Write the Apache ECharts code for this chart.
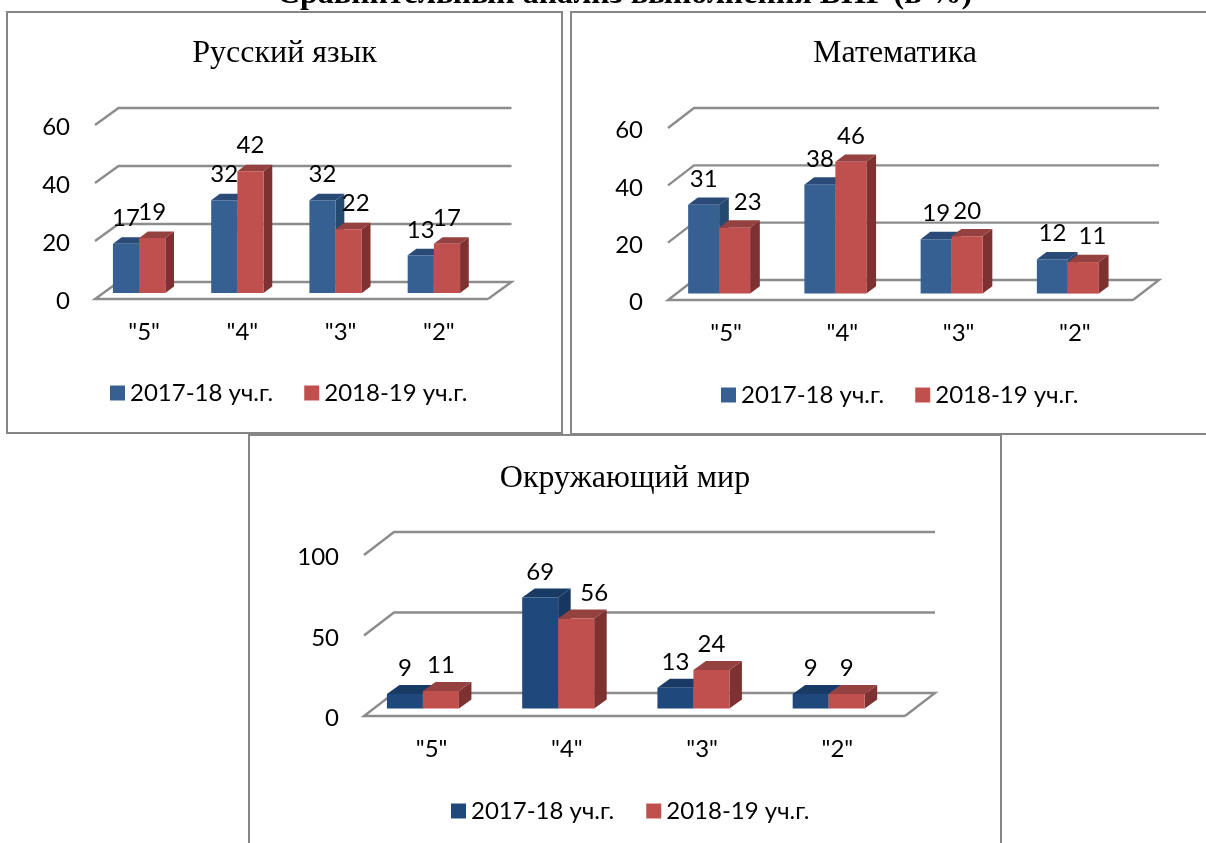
<!DOCTYPE html>
<html><head><meta charset="utf-8">
<style>html,body{margin:0;padding:0;background:#fff;overflow:hidden}#c{width:1206px;height:843px}</style>
<script src="https://cdn.jsdelivr.net/npm/echarts@6/dist/echarts.min.js"></script>
</head><body><div id="c"></div>
<script>
var categories = ['"5"', '"4"', '"3"', '"2"'];
var years = ['2017-18 уч.г.', '2018-19 уч.г.'];
var pageTitle = 'Сравнительный анализ выполнения ВПР (в %)';
var subjects = ['Русский язык', 'Математика', 'Окружающий мир'];
var russian2017 = [17, 32, 32, 13];
var russian2018 = [19, 42, 22, 17];
var math2017 = [31, 38, 19, 12];
var math2018 = [23, 46, 20, 11];
var world2017 = [9, 69, 13, 9];
var world2018 = [11, 56, 24, 9];
var ticks60 = [0, 20, 40, 60];
var ticks100 = [0, 50, 100];

var SANS = 'Lato, "Open Sans", sans-serif';
var SERIF = '"Liberation Serif", serif';
var RED = {front:'#c0504d', top:'#954140', side:'#7d3131'};
var BLUE = {front:'#376092', top:'#2a4a78', side:'#254a70'};
var NAVY = {front:'#1f497d', top:'#183a64', side:'#173660'};

var panels = [
 {title:subjects[0], a:russian2017, b:russian2018, ticks:ticks60, max:60, interval:20,
  frame:[7,12,555,421], grid:[95,125,393,174], wall:[23.5,17], bar:{w:26.2,shift:-5,lift:6,dx:8.7,dy:6.5},
  titleX:284.5, titleY:38, legend:[110,381,31], blue:BLUE, nudge:{2:7}},
 {title:subjects[1], a:math2017, b:math2018, ticks:ticks60, max:60, interval:20,
  frame:[571,12,660,422], grid:[668,128,465,172], wall:[26,20], bar:{w:31,shift:-7,lift:6.4,dx:9.7,dy:7.3},
  titleX:895, titleY:38, legend:[721,383,31], blue:BLUE, nudge:{0:13,3:9}},
 {title:subjects[2], a:world2017, b:world2018, ticks:ticks100, max:100, interval:50,
  frame:[249,435,752,430], grid:[364,555,541,161], wall:[30,23], bar:{w:36,shift:-8.7,lift:7.4,dx:12.5,dy:9},
  titleX:625, titleY:463, legend:[451,799,32], blue:NAVY, nudge:{1:18}}
];

function wallRenderer(p){
  return function(params, api){
    var cs = params.coordSys, v = api.value(1), y = api.coord([0, v])[1];
    var dx = p.wall[0], dy = p.wall[1], x0 = cs.x, x1 = cs.x + cs.width;
    var pts = [[x0, y], [x0 + dx, y - dy], [x1 + dx, y - dy]];
    if (v === 0) pts = [[x1, y], [x0, y], [x0 + dx, y - dy], [x1 + dx, y - dy], [x1, y]];
    return {type:'polyline', silent:true, shape:{points:pts},
      style:{stroke:'#8c8c8c', lineWidth:2.4, fill:null}};
  };
}
function barRenderer(p, colors, isSecond){
  return function(params, api){
    var i = api.value(0), v = api.value(1), b = p.bar;
    var c = api.coord([i, v]), base = api.coord([i, 0]);
    var l = c[0] + b.shift + (isSecond ? 0 : -b.w), r = l + b.w;
    var t = c[1] - b.lift, g = base[1] - b.lift;
    var nudge = isSecond ? (p.nudge[i] || 0) : 0;
    return {type:'group', silent:true, children:[
      {type:'polygon', shape:{points:[[r,t],[r+b.dx,t-b.dy],[r+b.dx,g-b.dy],[r,g]]}, style:{fill:colors.side}},
      {type:'polygon', shape:{points:[[l,t],[l+b.dx,t-b.dy],[r+b.dx,t-b.dy],[r,t]]}, style:{fill:colors.top}},
      {type:'rect', shape:{x:l,y:t,width:b.w,height:g-t}, style:{fill:colors.front}},
      {type:'text', z2:50, style:{x:(l+r)/2+nudge, y:t-25.5, text:String(v), fill:'#000',
        font:'24px '+SANS, align:'center', verticalAlign:'middle'}}
    ]};
  };
}

var option = {
  backgroundColor:'#fff', animation:false,
  title:[{text:pageTitle, left:624.5, top:-21, textAlign:'center', padding:0,
    textStyle:{fontFamily:SERIF, fontWeight:'bold', fontSize:32, color:'#000'}}],
  grid:[], xAxis:[], yAxis:[], legend:[], series:[], graphic:[]
};
panels.forEach(function(p, k){
  var g = p.grid;
  option.graphic.push({type:'rect', z:-10, silent:true,
    shape:{x:p.frame[0],y:p.frame[1],width:p.frame[2],height:p.frame[3]},
    style:{fill:'#fff', stroke:'#868686', lineWidth:2}});
  option.title.push({text:p.title, left:p.titleX, top:p.titleY, textAlign:'center', padding:0,
    textStyle:{fontFamily:SERIF, fontWeight:'normal', fontSize:32, color:'#000'}});
  option.grid.push({left:g[0], top:g[1], width:g[2], height:g[3], containLabel:false});
  option.xAxis.push({type:'category', gridIndex:k, data:categories, boundaryGap:true,
    axisLine:{show:false}, axisTick:{show:false}, splitLine:{show:false},
    axisLabel:{show:true, interval:0, margin:21, color:'#000', fontFamily:SANS, fontSize:24}});
  option.yAxis.push({type:'value', gridIndex:k, min:0, max:p.max, interval:p.interval,
    axisLine:{show:false}, axisTick:{show:false}, splitLine:{show:false},
    axisLabel:{margin:25, formatter:'{n|{value}}',
      rich:{n:{color:'#000', fontFamily:SANS, fontSize:24, padding:[5,0,0,0]}}}});
  option.legend.push({left:p.legend[0], top:p.legend[1], itemGap:p.legend[2], itemWidth:15, itemHeight:15,
    padding:0, icon:'rect', selectedMode:false,
    textStyle:{fontFamily:SANS, fontSize:24, color:'#000'},
    data:[{name:years[0], itemStyle:{color:p.blue.front}}, {name:years[1], itemStyle:{color:RED.front}}]});
  option.series.push({type:'custom', name:'wall'+k, xAxisIndex:k, yAxisIndex:k, z:1, silent:true,
    data:p.ticks.map(function(v){return [0, v];}), encode:{x:0,y:1}, renderItem:wallRenderer(p)});
  option.series.push({type:'custom', name:years[0], xAxisIndex:k, yAxisIndex:k, z:2, silent:true,
    itemStyle:{color:p.blue.front},
    data:p.a.map(function(v,i){return [i, v];}), encode:{x:0,y:1}, renderItem:barRenderer(p,p.blue,false)});
  option.series.push({type:'custom', name:years[1], xAxisIndex:k, yAxisIndex:k, z:3, silent:true,
    itemStyle:{color:RED.front},
    data:p.b.map(function(v,i){return [i, v];}), encode:{x:0,y:1}, renderItem:barRenderer(p,RED,true)});
});
echarts.init(document.getElementById('c'), null, {renderer:'canvas'}).setOption(option);
</script></body></html>
